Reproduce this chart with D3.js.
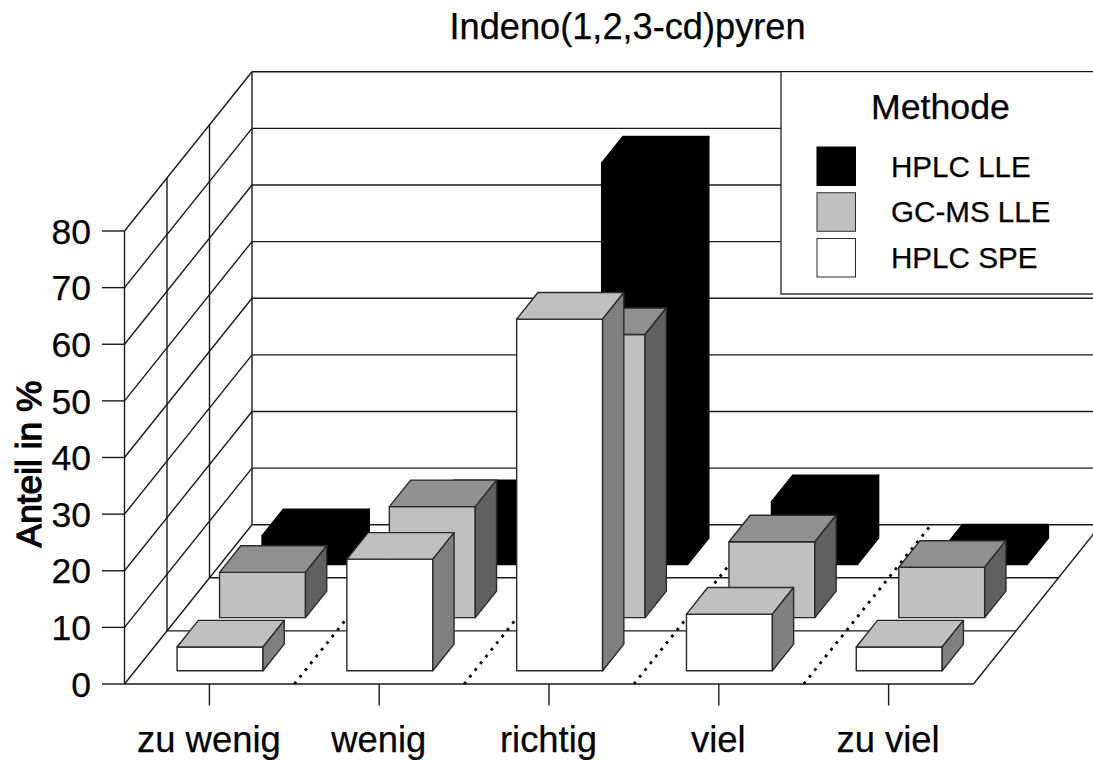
<!DOCTYPE html>
<html><head><meta charset="utf-8">
<script src="https://cdn.jsdelivr.net/npm/d3@7"></script>
<style>html,body{margin:0;padding:0;background:#fff}svg{display:block}text{font-family:"Liberation Sans",Arial,sans-serif;fill:#000}</style>
</head><body><svg id="c" width="1093" height="760"></svg>
<script>
const chartTitle = "Indeno(1,2,3-cd)pyren";
const yTitle = "Anteil in %";
const legendTitle = "Methode";
const categories = ["zu wenig","wenig","richtig","viel","zu viel"];
const seriesNames = ["HPLC LLE","GC-MS LLE","HPLC SPE"];
const yTicks = [0,10,20,30,40,50,60,70,80];
const hplcLLE = [5.1,10.2,70.9,11.1,2.4];
const gcmsLLE = [8,19.6,50,13.4,8.9];
const hplcSPE = [4.2,19.7,62.1,10,4.2];
const seriesValues = [hplcLLE,gcmsLLE,hplcSPE];

const faces = [
  {front:"#000000",top:"#000000",side:"#000000",stroke:"#000000"},
  {front:"#c0c0c0",top:"#909090",side:"#606060",stroke:"#2a2a2a"},
  {front:"#ffffff",top:"#c0c0c0",side:"#808080",stroke:"#2a2a2a"}
];

const svg = d3.select("#c");
const X = d3.scaleLinear().domain([0,5]).range([124.5,973.5]);
const Y = d3.scaleLinear().domain([0,80]).range([0,-453]);
const DX = d3.scaleLinear().domain([0,3]).range([0,127.5]);
const DY = d3.scaleLinear().domain([0,3]).range([684,524.7]);
const P = (c,v,d) => [X(c)+DX(d), DY(d)+Y(v)];
const line = pts => "M"+pts.map(p=>p.join(",")).join("L");
const poly = pts => line(pts)+"Z";
const gridCol="#1a1a1a", W=1.4, right=1093;

const grid = svg.append("g").attr("fill","none").attr("stroke",gridCol).attr("stroke-width",W);
grid.selectAll(".bw").data(yTicks).join("path").attr("d",v=>line([P(0,v,3),[right,P(0,v,3)[1]]]));
grid.selectAll(".sd").data(yTicks).join("path").attr("d",v=>line([P(0,v,0),P(0,v,3)]));
grid.selectAll(".sv").data(d3.range(0,4)).join("path").attr("d",d=>line([P(0,0,d),P(0,80,d)]));
grid.selectAll(".lt").data(yTicks).join("path").attr("d",v=>{const p=P(0,v,0);return line([[p[0]-22.5,p[1]],p]);});
grid.selectAll(".fl").data([0,1,2]).join("path").attr("d",d=>line([P(0,0,d),P(5,0,d)]));
grid.append("path").attr("d",line([P(5,0,0),P(5,0,3)]));
grid.selectAll(".bt").data(categories).join("path").attr("d",(c,i)=>{const p=P(i+.5,0,0);return line([p,[p[0],p[1]+21.5]]);});
svg.append("g").selectAll("path").data(d3.range(1,5)).join("path")
  .attr("d",c=>line([P(c,0,0),P(c,0,3)]))
  .attr("fill","none").attr("stroke","#000").attr("stroke-width",2.8).attr("stroke-dasharray","2.8 5.8");

const half=.253, d0=.25, d1=.75;
const bars = svg.append("g");
seriesValues.forEach((vals,s)=>{
  const row = 2-s, f = faces[s];
  const g = bars.append("g").attr("stroke",f.stroke).attr("stroke-width",W).attr("stroke-linejoin","round");
  const cells = g.selectAll("g").data(vals).join("g");
  const L=i=>i+.5-half, R=i=>i+.5+half;
  cells.append("path").attr("fill",f.front).attr("d",(v,i)=>poly([P(L(i),0,row+d0),P(R(i),0,row+d0),P(R(i),v,row+d0),P(L(i),v,row+d0)]));
  cells.append("path").attr("fill",f.top).attr("d",(v,i)=>poly([P(L(i),v,row+d0),P(R(i),v,row+d0),P(R(i),v,row+d1),P(L(i),v,row+d1)]));
  cells.append("path").attr("fill",f.side).attr("d",(v,i)=>poly([P(R(i),0,row+d0),P(R(i),0,row+d1),P(R(i),v,row+d1),P(R(i),v,row+d0)]));
});

const lg = svg.append("g");
lg.append("path").attr("d","M781,72.6V294H1093V72.6Z").attr("fill","#fff").attr("stroke","none");
lg.append("path").attr("d","M781,72V294H1093").attr("fill","none").attr("stroke","#333").attr("stroke-width",1.4);
lg.append("text").attr("x",871).attr("y",118.5).attr("font-size",35.7).attr("stroke","#000").attr("stroke-width",.25).text(legendTitle);
const legY=d3.scalePoint().domain(seriesNames).range([147,238.5]);
const sw=lg.selectAll("g").data(seriesNames).join("g");
sw.append("rect").attr("x",817).attr("y",d=>legY(d)).attr("width",38.5).attr("height",38.5)
  .attr("fill",(d,i)=>faces[i].front).attr("stroke",(d,i)=>faces[i].stroke).attr("stroke-width",1);
sw.append("text").attr("x",891).attr("y",d=>legY(d)+29.5).attr("font-size",29.6).attr("stroke","#000").attr("stroke-width",.25).text(d=>d);

svg.append("text").attr("x",627.5).attr("y",38.5).attr("text-anchor","middle").attr("font-size",36.2).attr("stroke","#000").attr("stroke-width",.25).text(chartTitle);
svg.append("g").selectAll("text").data(yTicks).join("text")
  .attr("x",91).attr("y",v=>P(0,v,0)[1]+12.7).attr("text-anchor","end").attr("font-size",35.5).attr("stroke","#000").attr("stroke-width",.25).text(v=>v);
svg.append("text").attr("transform","translate(40.5,464) rotate(-90)").attr("text-anchor","middle")
  .attr("font-size",35.3).attr("stroke","#000").attr("stroke-width",1.2).text(yTitle);
svg.append("g").selectAll("text").data(categories).join("text")
  .attr("x",(c,i)=>P(i+.5,0,0)[0]-.5).attr("y",752).attr("text-anchor","middle").attr("font-size",36.4).attr("stroke","#000").attr("stroke-width",.25).text(c=>c);
</script></body></html>
